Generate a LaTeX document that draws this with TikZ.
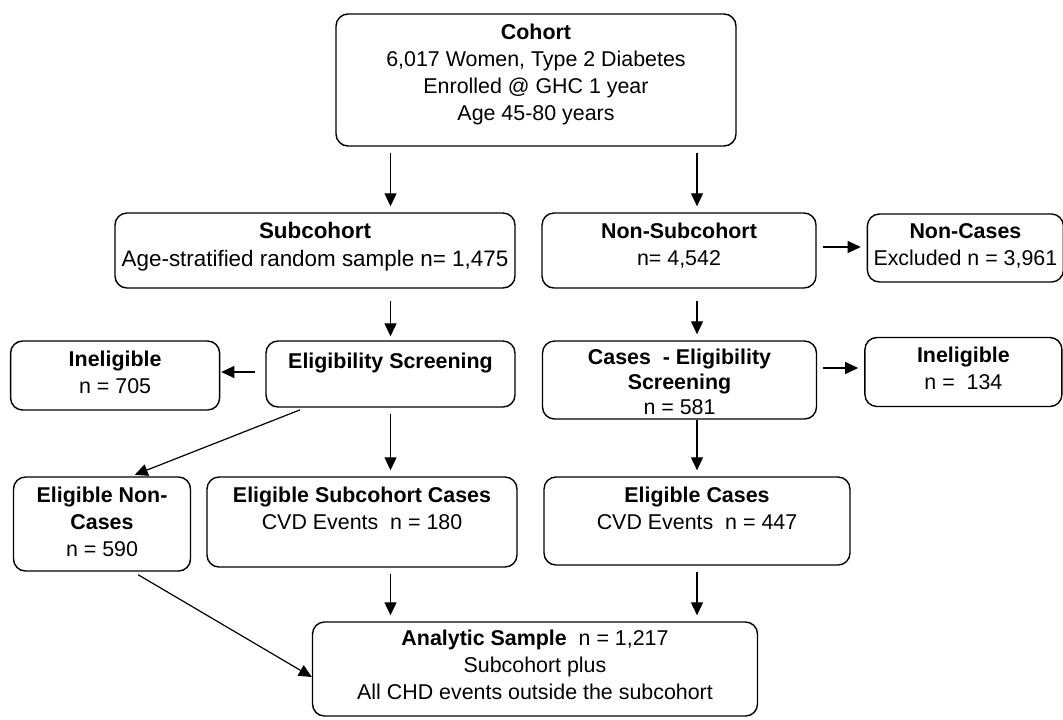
\documentclass[tikz,border=0pt]{standalone}
\usepackage{fontspec}
\setmainfont{Liberation Sans}
\usetikzlibrary{arrows.meta, positioning}
\tikzstyle{box} = [rectangle, rounded corners=6pt, draw=black, line width=0.7pt, inner sep=0pt]
\tikzstyle{txt} = [anchor=north, yshift=-5pt, inner sep=0pt, align=center]
\tikzstyle{arrow} = [line width=0.6pt, ->, >={Triangle[length=6.5pt, width=6pt]}, shorten <=3pt, shorten >=3pt]

\begin{document}
\begin{tikzpicture}[x=0.5pt, y=-0.5pt, font=\fontsize{10.7}{13.5}\selectfont]
    \useasboundingbox (0,0) rectangle (1063,719);

    % Cohort
    \node (cohort) [box, minimum width=200pt, minimum height=66pt] at (536,80) {};
    \node (cohorttxt) at (cohort.north) [txt] {\textbf{Cohort}\\6,017 Women, Type 2 Diabetes\\Enrolled @ GHC 1 year\\Age 45-80 years};

    % Subcohort branch
    \node (sub) [box, minimum width=200pt, minimum height=37.5pt] at (315,250.5) {};
    \node (subtxt) at (sub.north) [txt, font=\fontsize{11.2}{14}\selectfont] {\textbf{Subcohort}\\Age-stratified random sample n= 1,475};
    \node (elig) [box, minimum width=124.5pt, minimum height=33pt] at (390.5,374) {};
    \node (eligtxt) at (elig.north) [txt, yshift=-1pt] {\textbf{Eligibility Screening}};
    \node (inelA) [box, left=22.5pt of elig, yshift=-0.75pt, minimum width=104.5pt, minimum height=34.5pt] {};
    \node (inelAtxt) at (inelA.north) [txt] {\textbf{Ineligible}\\n = 705};

    % Non-subcohort branch
    \node (nonsub) [box, minimum width=137pt, minimum height=37.5pt] at (679,250.5) {};
    \node (nonsubtxt) at (nonsub.north) [txt] {\textbf{Non-Subcohort}\\n= 4,542};
    \node (noncases) [box, right=25pt of nonsub, yshift=1.25pt, minimum width=98pt, minimum height=34pt] {};
    \node (noncasestxt) at (noncases.north) [txt] {\textbf{Non-Cases}\\Excluded n = 3,961};
    \node (caseelig) [box, minimum width=137pt, minimum height=39pt] at (679.5,380) {};
    \node (caseeligtxt) at (caseelig.north) [txt, yshift=1pt, font=\fontsize{10.7}{12.5}\selectfont] {\textbf{Cases\ \ - Eligibility}\\\textbf{Screening}\\n = 581};
    \node (inelB) [box, right=23.5pt of caseelig, yshift=4pt, minimum width=98.5pt, minimum height=34.5pt] {};
    \node (inelBtxt) at (inelB.north) [txt] {\textbf{Ineligible}\\n =\ \ 134};

    % Eligible row
    \node (eNonCases) [box, minimum width=88.5pt, minimum height=47pt] at (102,524) {};
    \node (eNonCasestxt) at (eNonCases.north) [txt] {\textbf{Eligible Non-}\\\textbf{Cases}\\n = 590};
    \node (eSubCases) [box, minimum width=155pt, minimum height=45pt] at (362,522) {};
    \node (eSubCasestxt) at (eSubCases.north) [txt] {\textbf{Eligible Subcohort Cases}\\CVD Events\ \ n = 180};
    \node (eCases) [box, minimum width=153pt, minimum height=44pt] at (697,521) {};
    \node (eCasestxt) at (eCases.north) [txt] {\textbf{Eligible Cases}\\CVD Events\ \ n = 447};

    % Analytic sample
    \node (analytic) [box, minimum width=222.5pt, minimum height=47pt] at (535,669) {};
    \node (analytictxt) at (analytic.north) [txt, yshift=1pt] {\textbf{Analytic Sample}\ \ n = 1,217\\Subcohort plus\\All CHD events outside the subcohort};

    % Arrows
    \draw [arrow] (cohort.south -| elig.north) -- (sub.north -| elig.north);
    \draw [arrow] (cohort.south -| eCases.north) -- (nonsub.north -| eCases.north);
    \draw [arrow, shorten <=6pt, shorten >=2pt] (sub.south -| elig.north) -- (elig.north);
    \draw [arrow, shorten <=6pt] (nonsub.south -| eCases.north) -- (caseelig.north -| eCases.north);
    \draw [arrow, shorten <=5pt, shorten >=0.5pt] ([yshift=1pt]elig.west) -- ([yshift=1pt]elig.west -| inelA.east);
    \draw [arrow] ([yshift=1.75pt]nonsub.east) -- ([yshift=1.75pt]nonsub.east -| noncases.west);
    \draw [arrow] ([yshift=6pt]caseelig.east) -- ([yshift=6pt]caseelig.east -| inelB.west);
    \draw [arrow, shorten >=2pt] ([xshift=-42.5pt]elig.south) -- ([xshift=14.5pt]eNonCases.north);
    \draw [arrow] (elig.south) -- (eSubCases.north -| elig.south);
    \draw [arrow, shorten <=0pt] (caseelig.south -| eCases.north) -- (eCases.north);
    \draw [arrow] (eSubCases.south -| elig.south) -- (analytic.north -| elig.south);
    \draw [arrow] (eCases.south) -- (analytic.north -| eCases.south);
    \draw [arrow, shorten >=0pt] ([xshift=15.5pt]eNonCases.south) -- ([yshift=-4pt]analytic.west);
\end{tikzpicture}
\end{document}
